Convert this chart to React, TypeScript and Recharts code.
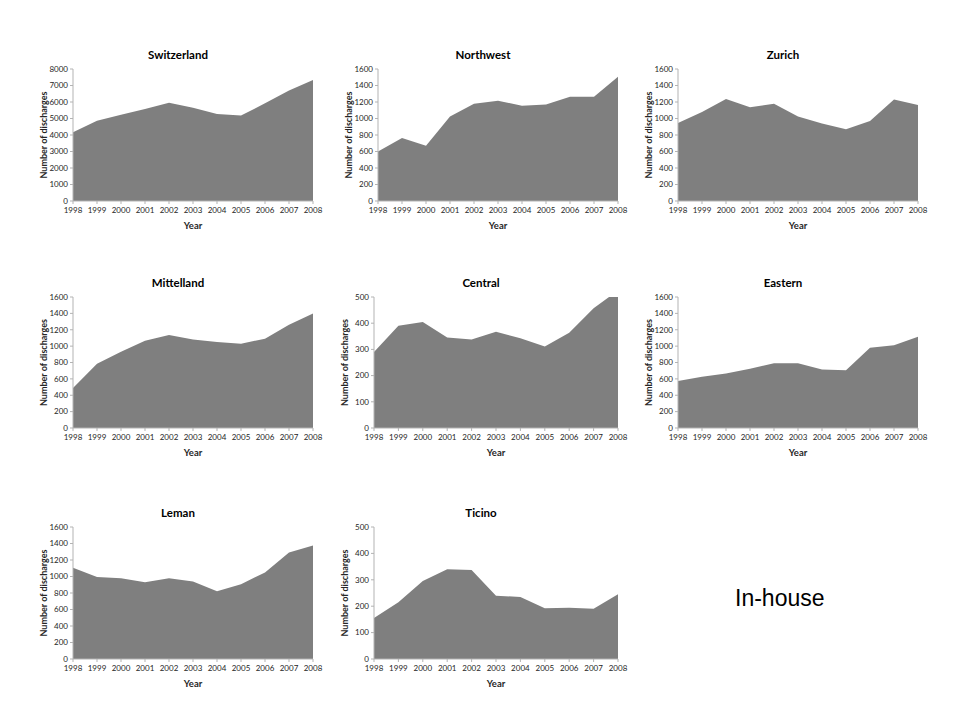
import React from 'react';
import { AreaChart, Area, XAxis, YAxis, Label } from 'recharts';

const years = ['1998', '1999', '2000', '2001', '2002', '2003', '2004', '2005', '2006', '2007', '2008'];

const switzerland = [4160, 4870, 5220, 5580, 5950, 5650, 5280, 5180, 5920, 6700, 7330];
const northwest = [600, 765, 670, 1025, 1180, 1215, 1155, 1170, 1265, 1265, 1505];
const zurich = [945, 1080, 1235, 1135, 1180, 1025, 940, 870, 970, 1230, 1165];
const mittelland = [490, 785, 930, 1065, 1135, 1080, 1050, 1030, 1090, 1260, 1400];
const central = [290, 390, 405, 345, 338, 367, 343, 311, 364, 457, 525];
const eastern = [575, 625, 665, 725, 790, 790, 715, 705, 980, 1010, 1115];
const leman = [1105, 995, 980, 930, 980, 940, 820, 905, 1050, 1290, 1375];
const ticino = [155, 215, 295, 340, 337, 240, 235, 192, 194, 190, 245];

const ticks8000 = [0, 1000, 2000, 3000, 4000, 5000, 6000, 7000, 8000];
const ticks1600 = [0, 200, 400, 600, 800, 1000, 1200, 1400, 1600];
const ticks500 = [0, 100, 200, 300, 400, 500];

const FONT = 'Lato, "Open Sans", "Liberation Sans", sans-serif';
const FILL = '#7f7f7f';
const AXIS = '#b3b3b3';
const TEXT = '#262626';

type PanelProps = {
  title: string;
  values: number[];
  ticks: number[];
  left: number;
  right: number;
  top: number;
  bottom: number;
  titleY: number;
};

function Panel({ title, values, ticks, left, right, top, bottom, titleY }: PanelProps) {
  const data = years.map((y, i) => ({ year: y, value: values[i] }));
  const plotW = right - left;
  const plotH = bottom - top;
  const chartLeft = left - 50;
  const chartTop = top - 10;
  const width = plotW + 50 + 15;
  const height = plotH + 10 + 32;
  const max = ticks[ticks.length - 1];
  const plotCenterX = left + plotW / 2;

  const yLabel = () => (
    <text
      x={20}
      y={10 + plotH / 2}
      transform={`rotate(-90 20 ${10 + plotH / 2})`}
      textAnchor="middle"
      dominantBaseline="central"
      fontFamily={FONT}
      fontSize={9}
      fontWeight={700}
      fill={TEXT}
    >
      Number of discharges
    </text>
  );

  const xLabel = () => (
    <text
      x={50 + plotW / 2}
      y={10 + plotH + 24}
      textAnchor="middle"
      dominantBaseline="central"
      fontFamily={FONT}
      fontSize={9.5}
      fontWeight={700}
      fill={TEXT}
    >
      Year
    </text>
  );

  return (
    <>
      <div
        style={{
          position: 'absolute',
          left: plotCenterX - 15 - 100,
          top: titleY - 8,
          width: 200,
          height: 16,
          lineHeight: '16px',
          textAlign: 'center',
          fontFamily: FONT,
          fontSize: 11.5,
          fontWeight: 700,
          color: '#000',
        }}
      >
        {title}
      </div>
      <div style={{ position: 'absolute', left: chartLeft, top: chartTop, width, height }}>
        <AreaChart width={width} height={height} data={data} margin={{ top: 10, right: 15, left: 20, bottom: 2 }}>
          <XAxis
            dataKey="year"
            interval={0}
            height={30}
            tickSize={3}
            tickMargin={3.5}
            axisLine={{ stroke: AXIS }}
            tickLine={{ stroke: AXIS }}
            tick={{ fontSize: 8, fill: TEXT, fontFamily: FONT }}
          >
            <Label content={xLabel} />
          </XAxis>
          <YAxis
            type="number"
            domain={[0, max]}
            ticks={ticks}
            allowDataOverflow
            width={30}
            tickSize={3}
            tickMargin={2}
            axisLine={{ stroke: AXIS }}
            tickLine={{ stroke: AXIS }}
            tick={{ fontSize: 8, fill: TEXT, fontFamily: FONT }}
          >
            <Label content={yLabel} />
          </YAxis>
          <Area
            type="linear"
            dataKey="value"
            stroke="none"
            fill={FILL}
            fillOpacity={1}
            isAnimationActive={false}
            dot={false}
            activeDot={false}
          />
        </AreaChart>
      </div>
    </>
  );
}

export default function App() {
  return (
    <div style={{ position: 'absolute', left: 0, top: 0, width: 960, height: 720, background: '#fff', overflow: 'hidden' }}>
      <Panel title="Switzerland" values={switzerland} ticks={ticks8000} left={73} right={313} top={69} bottom={201} titleY={55} />
      <Panel title="Northwest" values={northwest} ticks={ticks1600} left={378} right={618} top={69} bottom={201} titleY={55} />
      <Panel title="Zurich" values={zurich} ticks={ticks1600} left={678} right={918} top={69} bottom={201} titleY={55} />
      <Panel title="Mittelland" values={mittelland} ticks={ticks1600} left={73} right={313} top={297} bottom={428} titleY={283} />
      <Panel title="Central" values={central} ticks={ticks500} left={374} right={618} top={297} bottom={428} titleY={283} />
      <Panel title="Eastern" values={eastern} ticks={ticks1600} left={678} right={918} top={297} bottom={428} titleY={283} />
      <Panel title="Leman" values={leman} ticks={ticks1600} left={73} right={313} top={527} bottom={659} titleY={513} />
      <Panel title="Ticino" values={ticino} ticks={ticks500} left={374} right={618} top={527} bottom={659} titleY={513} />
      <div
        style={{
          position: 'absolute',
          left: 735,
          top: 584,
          height: 28,
          lineHeight: '28px',
          fontFamily: '"Liberation Sans", Arial, sans-serif',
          fontSize: 23,
          color: '#000',
          whiteSpace: 'nowrap',
        }}
      >
        In-house
      </div>
    </div>
  );
}
